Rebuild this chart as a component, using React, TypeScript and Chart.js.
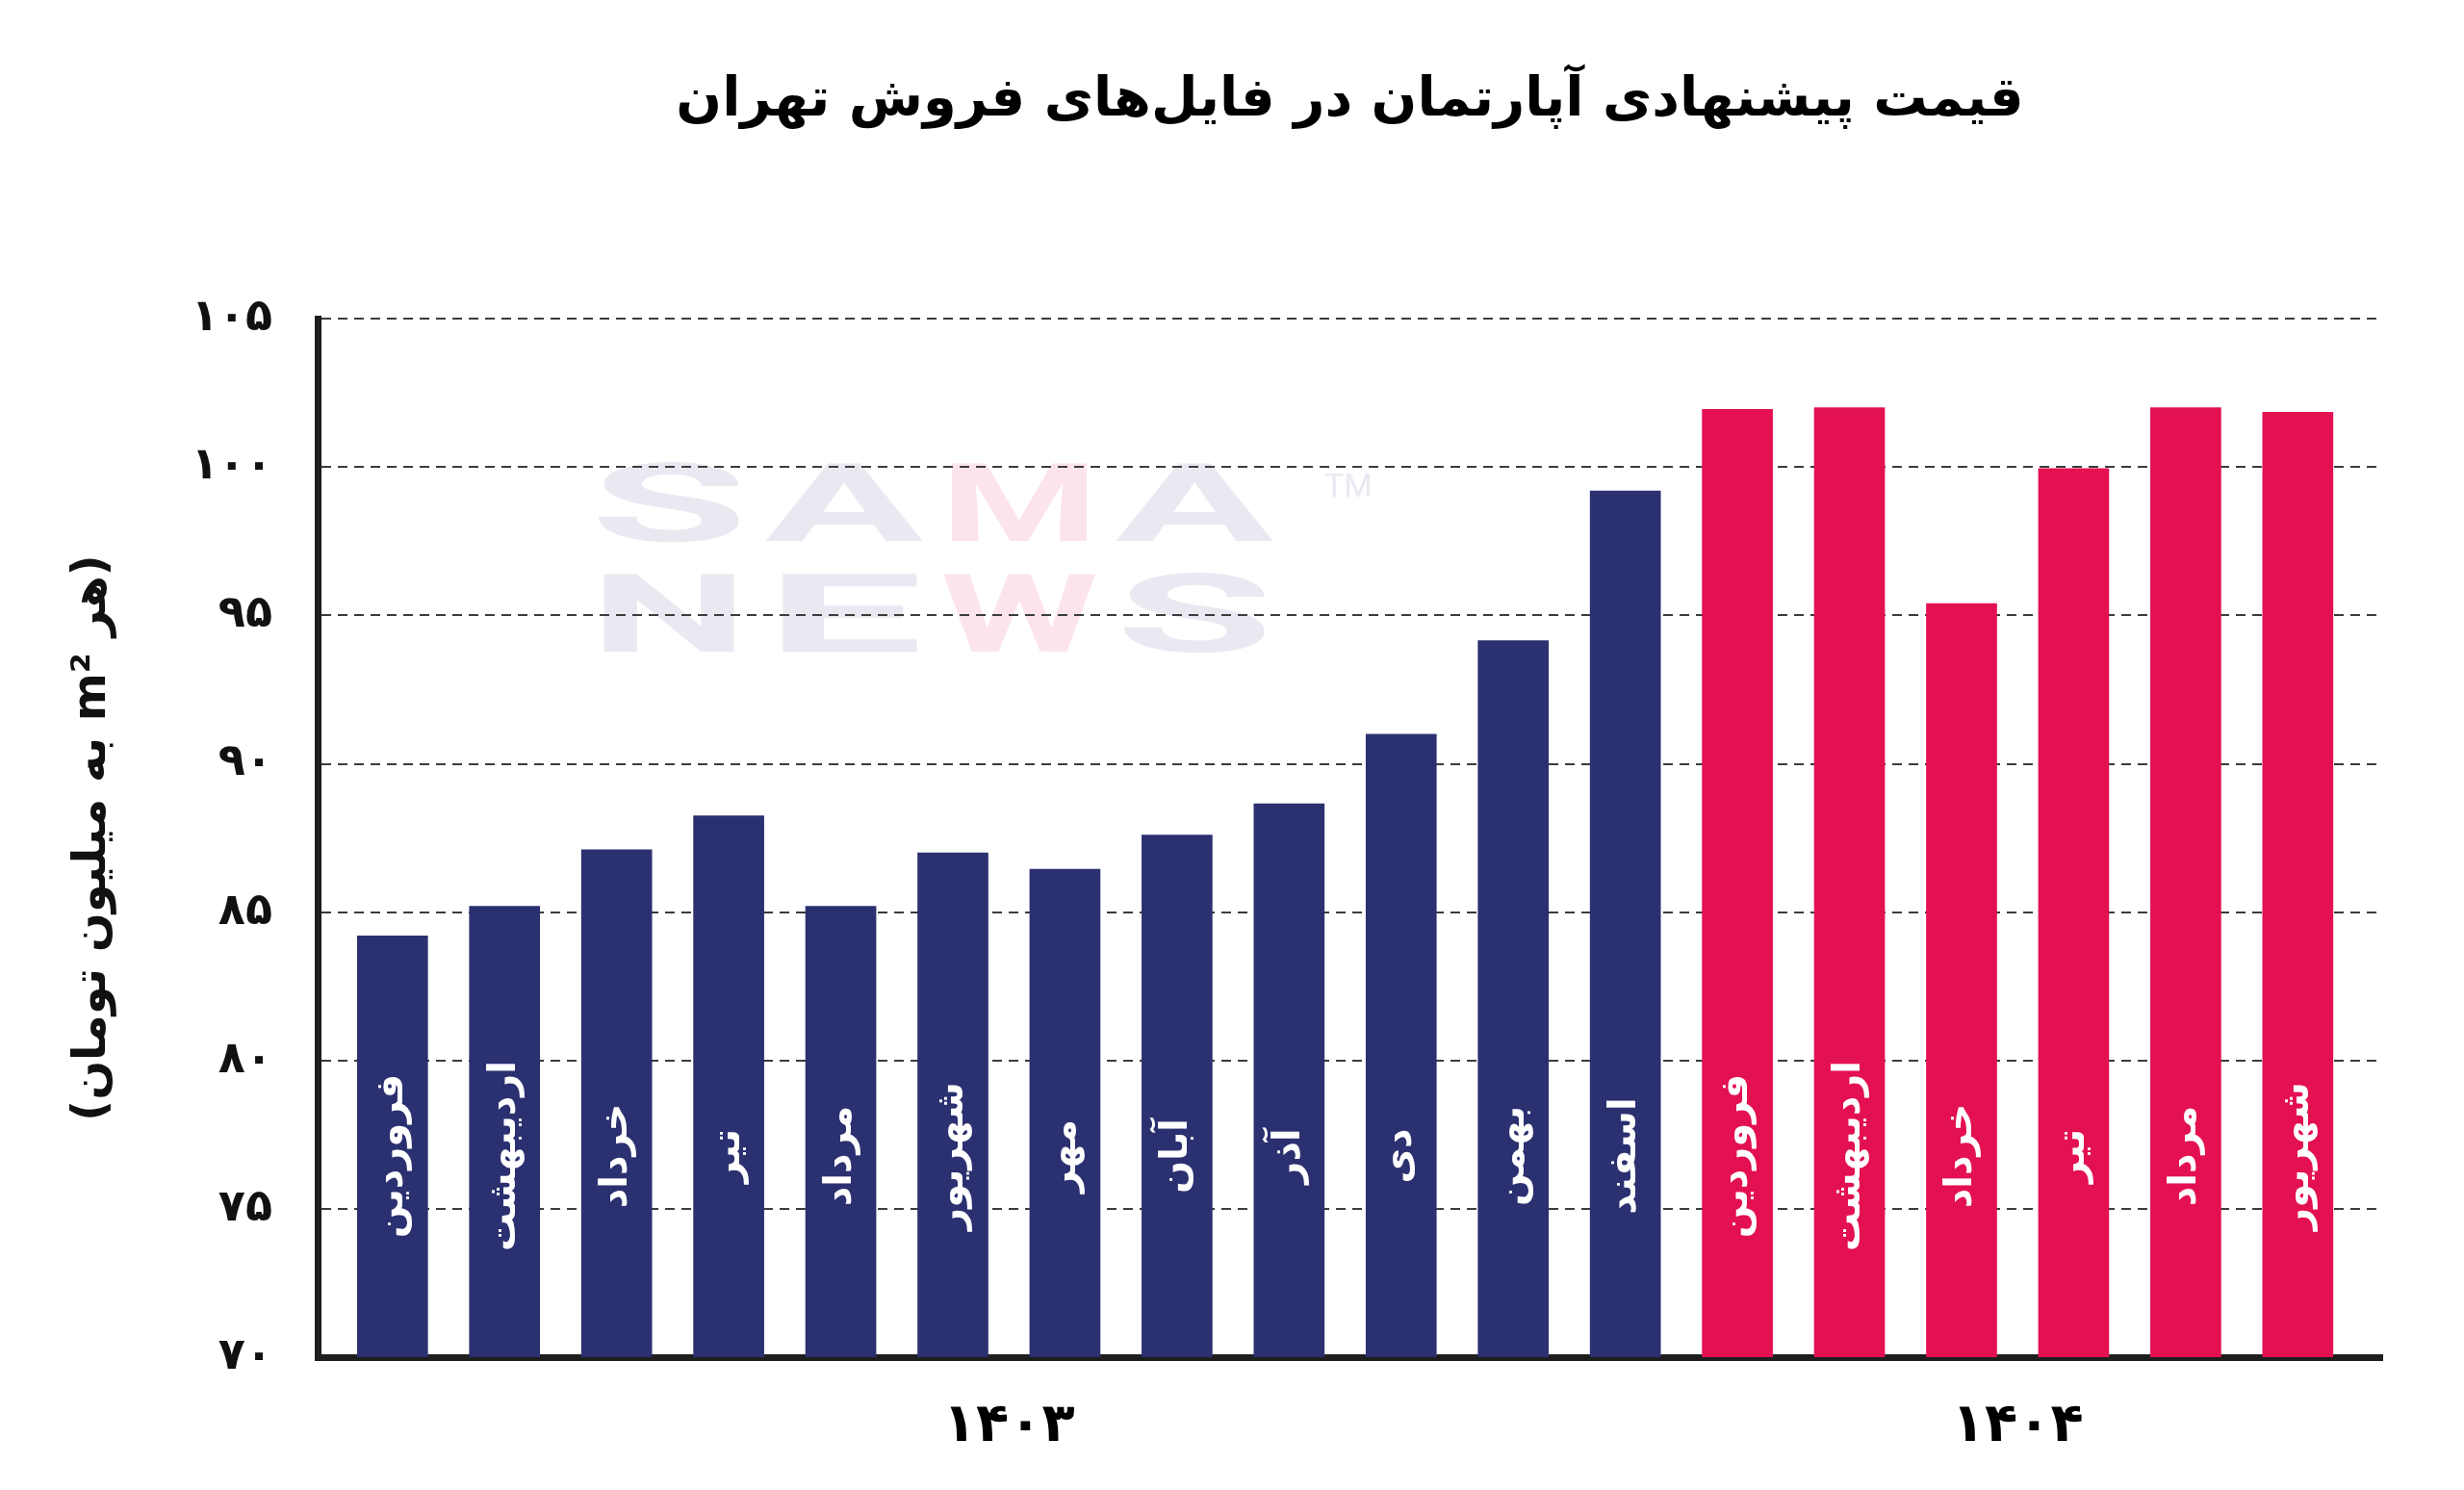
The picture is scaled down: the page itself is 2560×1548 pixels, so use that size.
import { useEffect, useRef } from "react";
import Chart from "chart.js/auto";

// months of 1403 and 1404 (Persian calendar)
const months1403 = ["فروردین", "اردیبهشت", "خرداد", "تیر", "مرداد", "شهریور", "مهر", "آبان", "آذر", "دی", "بهمن", "اسفند"];
const values1403 = [84.2, 85.2, 87.1, 88.25, 85.2, 87.0, 86.45, 87.6, 88.65, 91.0, 94.15, 99.2];
const months1404 = ["فروردین", "اردیبهشت", "خرداد", "تیر", "مرداد", "شهریور"];
const values1404 = [101.95, 102.0, 95.4, 99.95, 102.0, 101.85];

const yearLabels = ["۱۴۰۳", "۱۴۰۴"];
const yTickValues = [70, 75, 80, 85, 90, 95, 100, 105];
const yTickLabels = ["۷۰", "۷۵", "۸۰", "۸۵", "۹۰", "۹۵", "۱۰۰", "۱۰۵"];

const chartTitle = "قیمت پیشنهادی آپارتمان در فایل‌های فروش تهران";
const yTitle = "(هر m² به میلیون تومان)";

const NAVY = "#2B3070";
const CRIMSON = "#E31052";
const FONT = "'DejaVu Sans', sans-serif";

const allMonths = [...months1403, ...months1404];
const allValues = [...values1403, ...values1404];
const yearGroups = [
  { label: yearLabels[0], from: 0, to: months1403.length - 1 },
  { label: yearLabels[1], from: months1403.length, to: allMonths.length - 1 },
];

const watermarkPlugin = {
  id: "watermark",
  beforeDraw(chart: Chart) {
    const { ctx, chartArea } = chart;
    const rows = ["SAMA", "NEWS"];
    const left = chartArea.left + 283;
    const pitch = 182;
    const letterW = 164;
    ctx.save();
    ctx.font = `bold 114px Roboto, sans-serif`;
    ctx.textAlign = "center";
    ctx.textBaseline = "alphabetic";
    rows.forEach((row, r) => {
      const baseline = chartArea.top + (r === 0 ? 231 : 346);
      row.split("").forEach((ch, i) => {
        const w = ctx.measureText(ch).width;
        ctx.save();
        ctx.translate(left + i * pitch + letterW / 2, baseline);
        ctx.scale(letterW / w, 1);
        ctx.fillStyle = i === 2 ? "#FCE4EA" : "#E9E9F1";
        ctx.fillText(ch, 0, 0);
        ctx.restore();
      });
    });
    ctx.font = `400 34px Roboto, sans-serif`;
    ctx.fillStyle = "#E9E9F1";
    ctx.fillText("TM", left + 4 * pitch + 60, chartArea.top + 185);
    ctx.restore();
  },
};

const labelsPlugin = {
  id: "barLabels",
  afterDatasetsDraw(chart: Chart) {
    const { ctx, chartArea } = chart;
    const meta = chart.getDatasetMeta(0);
    const xs = chart.scales.x;
    ctx.save();
    ctx.textAlign = "center";
    ctx.textBaseline = "middle";
    ctx.fillStyle = "#ffffff";
    ctx.font = `bold 40px ${FONT}`;
    meta.data.forEach((bar, i) => {
      ctx.save();
      ctx.translate(bar.x, chartArea.bottom - 209);
      ctx.rotate(-Math.PI / 2);
      ctx.fillText(allMonths[i], 0, 0);
      ctx.restore();
    });
    ctx.fillStyle = "#000000";
    ctx.font = `bold 56px ${FONT}`;
    yearGroups.forEach((g) => {
      const x = xs.getPixelForValue((g.from + g.to) / 2);
      ctx.fillText(g.label, x, chartArea.bottom + 72);
    });
    ctx.restore();
  },
};

export default function App() {
  const canvasRef = useRef<HTMLCanvasElement | null>(null);

  useEffect(() => {
    if (!canvasRef.current) return;
    document.body.style.margin = "0";

    const chart = new Chart(canvasRef.current, {
      type: "bar",
      data: {
        datasets: [
          {
            data: allValues.map((v, i) => ({ x: i, y: v })),
            backgroundColor: allValues.map((_, i) => (i < values1403.length ? NAVY : CRIMSON)),
            borderWidth: 0,
            barThickness: 73,
          },
        ],
      },
      options: {
        animation: false,
        responsive: false,
        devicePixelRatio: 1,
        layout: { padding: { left: 0, right: 85, top: 0, bottom: 0 } },
        plugins: {
          legend: { display: false },
          tooltip: { enabled: false },
          title: {
            display: true,
            text: chartTitle,
            color: "#000",
            fullSize: false,
            font: { family: FONT, size: 56, weight: "bold" },
            padding: { top: 72, bottom: 192 },
          },
        },
        scales: {
          x: {
            type: "linear",
            offset: false,
            min: -0.668,
            max: 17.753,
            ticks: { display: false },
            grid: { display: false, drawTicks: false },
            border: { display: true, color: "#1e1e1e", width: 7 },
            afterFit: (s: any) => {
              s.height = 138;
            },
          },
          y: {
            min: 70,
            max: 105,
            ticks: {
              stepSize: 5,
              color: "#111",
              padding: 47,
              font: { family: FONT, size: 46, weight: "bold" },
              callback: (v: any) => yTickLabels[yTickValues.indexOf(Number(v))] ?? "",
            },
            grid: { color: "#3c3c3c", lineWidth: 2, drawTicks: false },
            border: { display: true, color: "#1e1e1e", width: 7, dash: [10, 7] },
            title: {
              display: true,
              text: yTitle,
              color: "#111",
              font: { family: FONT, size: 48, weight: "bold" },
              padding: { top: 68, bottom: 0 },
            },
            afterFit: (s: any) => {
              s.width = 330;
            },
          },
        },
      },
      plugins: [watermarkPlugin, labelsPlugin],
    });

    return () => {
      chart.destroy();
    };
  }, []);

  return (
    <div style={{ position: "absolute", left: 0, top: 0, width: 2560, height: 1548, background: "#fff" }}>
      <canvas ref={canvasRef} width={2560} height={1548} dir="rtl" style={{ display: "block" }} />
    </div>
  );
}
